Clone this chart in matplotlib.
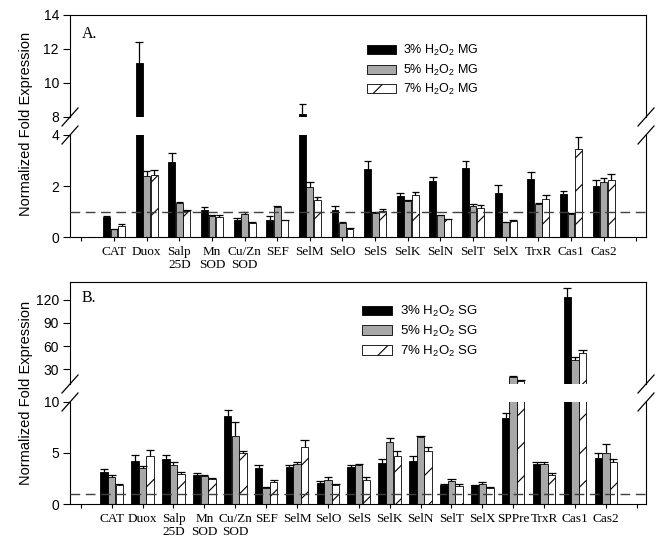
import numpy as np
import matplotlib
matplotlib.use('Agg')
import matplotlib.pyplot as plt
from matplotlib.lines import Line2D
from matplotlib.patches import Patch

plt.rcParams['font.family'] = ['Liberation Sans', 'DejaVu Sans']
plt.rcParams['mathtext.default'] = 'regular'
plt.rcParams['hatch.linewidth'] = 0.8

# panel A: MG
genes_a = ['CAT', 'Duox', 'Salp\n25D', 'Mn\nSOD', 'Cu/Zn\nSOD', 'SEF', 'SelM', 'SelO',
           'SelS', 'SelK', 'SelN', 'SelT', 'SelX', 'TrxR', 'Cas1', 'Cas2']
a3 = [0.78, 11.15, 2.94, 1.05, 0.65, 0.68, 8.2, 1.07, 2.67, 1.59, 2.2, 2.71, 1.74, 2.29, 1.69, 2.01]
a3_err = [0.04, 1.25, 0.37, 0.14, 0.11, 0.14, 0.56, 0.13, 0.31, 0.12, 0.17, 0.28, 0.30, 0.27, 0.10, 0.24]
a5 = [0.30, 2.39, 1.33, 0.82, 0.92, 1.16, 1.96, 0.55, 0.95, 1.40, 0.85, 1.20, 0.58, 1.28, 0.92, 2.16]
a5_err = [0.02, 0.20, 0.06, 0.03, 0.08, 0.07, 0.18, 0.04, 0.04, 0.05, 0.03, 0.08, 0.02, 0.07, 0.03, 0.17]
a7 = [0.45, 2.42, 1.02, 0.78, 0.55, 0.65, 1.46, 0.33, 1.02, 1.63, 0.69, 1.15, 0.63, 1.49, 3.46, 2.25]
a7_err = [0.06, 0.22, 0.05, 0.07, 0.02, 0.03, 0.11, 0.02, 0.09, 0.12, 0.03, 0.10, 0.02, 0.14, 0.47, 0.23]
labels_a = ['3% H$_2$O$_2$ MG', '5% H$_2$O$_2$ MG', '7% H$_2$O$_2$ MG']

# panel B: SG
genes_b = ['CAT', 'Duox', 'Salp\n25D', 'Mn\nSOD', 'Cu/Zn\nSOD', 'SEF', 'SelM', 'SelO',
           'SelS', 'SelK', 'SelN', 'SelT', 'SelX', 'SPPre', 'TrxR', 'Cas1', 'Cas2']
b3 = [3.14, 4.18, 4.41, 2.88, 8.6, 3.55, 3.62, 2.08, 3.65, 4.0, 4.2, 1.89, 1.86, 8.4, 3.88, 123.4, 4.5]
b3_err = [0.32, 0.62, 0.39, 0.19, 0.58, 0.23, 0.22, 0.17, 0.13, 0.4, 0.52, 0.05, 0.05, 0.56, 0.19, 11.6, 0.5]
b5 = [2.65, 3.56, 3.82, 2.71, 6.65, 1.6, 3.94, 2.38, 3.78, 6.06, 6.58, 2.25, 1.92, 20.1, 3.9, 41.6, 4.98]
b5_err = [0.19, 0.2, 0.26, 0.17, 1.35, 0.05, 0.16, 0.22, 0.16, 0.42, 0.13, 0.23, 0.2, 1.3, 0.17, 4.7, 0.92]
b7 = [1.86, 4.7, 2.9, 2.45, 4.98, 2.12, 5.57, 1.89, 2.35, 4.72, 5.15, 1.79, 1.6, 15.0, 2.8, 50.6, 4.1]
b7_err = [0.07, 0.56, 0.24, 0.13, 0.26, 0.19, 0.75, 0.11, 0.25, 0.52, 0.45, 0.13, 0.06, 1.3, 0.26, 4.3, 0.3]
labels_b = ['3% H$_2$O$_2$ SG', '5% H$_2$O$_2$ SG', '7% H$_2$O$_2$ SG']

W, H = 667, 558
GRAY = '#a8a8a8'
SERIF = ['Liberation Serif', 'DejaVu Serif']

fig = plt.figure(figsize=(W / 100, H / 100), dpi=100)


def box(left, top, right, bottom):
    # pixel box -> figure fraction
    return [left / W, 1 - bottom / H, (right - left) / W, (bottom - top) / H]


def brk(x, y):
    # one diagonal break mark centred on pixel (x, y)
    fig.add_artist(Line2D([(x - 8) / W, (x + 8) / W], [1 - (y + 9) / H, 1 - (y - 9) / H],
                          color='black', lw=0.9))


def panel(top_px, genes, series, errs, legend_labels, lo_lim, hi_lim, lo_ticks, hi_ticks,
          width, offset, leg_xy, leg_fs):
    left, right = 70, 646
    ax_hi = fig.add_axes(box(left, top_px, right, top_px + 102))
    ax_lo = fig.add_axes(box(left, top_px + 120, right, top_px + 222))
    n = len(genes)
    x = np.arange(1, n + 1)
    styles = [dict(color='black'), dict(color=GRAY), dict(color='white', hatch='/')]
    for ax in (ax_hi, ax_lo):
        for i, (vals, err, st) in enumerate(zip(series, errs, styles)):
            vals = np.array(vals)
            err = np.array(err)
            xi = x + (i - 1) * offset
            ax.bar(xi, vals, width, edgecolor='black', linewidth=0.6, zorder=2, **st)
            ax.vlines(xi, vals, vals + err, color='black', lw=0.9, zorder=3)
            ax.hlines(vals + err, xi - width * 0.55, xi + width * 0.55, color='black', lw=0.9, zorder=3)
        ax.set_xlim(-0.35, n + 1.3)
        for s in ax.spines.values():
            s.set_linewidth(0.8)
        ax.tick_params(axis='y', direction='out', length=5, width=0.8, labelsize=10, pad=3)
        ax.tick_params(axis='x', direction='out', length=3, width=0.8)

    ax_hi.set_ylim(hi_lim)
    ax_hi.set_yticks(hi_ticks)
    ax_hi.spines['bottom'].set_visible(False)
    ax_hi.set_xticks([])

    ax_lo.set_ylim(lo_lim)
    ax_lo.set_yticks(lo_ticks)
    ax_lo.spines['top'].set_visible(False)
    ax_lo.set_xticks(np.arange(0, n + 2))
    ax_lo.set_xticklabels([''] + genes + [''], fontfamily=SERIF, fontsize=9.5, linespacing=1.15)
    ax_lo.axhline(1, color='#404040', lw=1, ls=(0, (7, 4)), zorder=4)

    for xb in (left, right):
        brk(xb, top_px + 102)
        brk(xb, top_px + 120)

    handles = [Patch(facecolor=st['color'], edgecolor='black', hatch=st.get('hatch'), lw=0.6)
               for st in styles]
    fig.legend(handles, legend_labels, loc='upper left',
               bbox_to_anchor=(leg_xy[0] / W, 1 - leg_xy[1] / H), frameon=False,
               fontsize=leg_fs, borderpad=0, handlelength=2.3, handleheight=0.75,
               handletextpad=0.55, labelspacing=0.35, borderaxespad=0)
    return ax_hi, ax_lo


panel(15, genes_a, [a3, a5, a7], [a3_err, a5_err, a7_err], labels_a,
      (0, 4), (8, 14), [0, 2, 4], [8, 10, 12, 14], 0.21, 0.23, (367, 43), 9)
panel(282, genes_b, [b3, b5, b7], [b3_err, b5_err, b7_err], labels_b,
      (0, 10), (11, 143), [0, 5, 10], [30, 60, 90, 120], 0.24, 0.245, (362, 304), 9.5)

fig.text(82 / W, 1 - 38 / H, 'A.', fontfamily=SERIF, fontsize=11.5, va='baseline')
fig.text(82 / W, 1 - 302 / H, 'B.', fontfamily=SERIF, fontsize=11.5, va='baseline')
fig.text(26 / W, 1 - 124 / H, 'Normalized Fold Expression', rotation=90,
         ha='center', va='center', fontsize=10.5)
fig.text(26 / W, 1 - 393 / H, 'Normalized Fold Expression', rotation=90,
         ha='center', va='center', fontsize=10.5)

fig.savefig('out.png', dpi=100)
